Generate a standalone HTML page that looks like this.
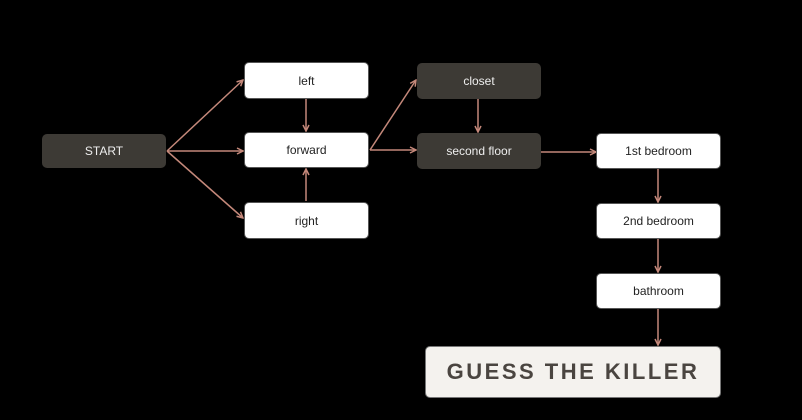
<!DOCTYPE html><html><head><style>
body{margin:0;width:802px;height:420px;background:#000;position:relative;overflow:hidden;font-family:"Liberation Sans",sans-serif}
.n{position:absolute;box-sizing:border-box;border-radius:5px;display:flex;align-items:center;justify-content:center;font-size:12px}
.w{background:#fff;color:#222;border:1px solid #555}
.d{background:#3d3a35;color:#eee}
svg{position:absolute;left:0;top:0}
</style></head><body>
<svg width="802" height="420"><defs><marker id="a" markerWidth="8" markerHeight="8" refX="7" refY="4" orient="auto" markerUnits="userSpaceOnUse"><path d="M1,1 L7,4 L1,7" fill="none" stroke="#c4887a" stroke-width="1.5"/></marker></defs>
<g stroke="#c4887a" stroke-width="1.5" fill="none" marker-end="url(#a)">
<line x1="167" y1="151" x2="243" y2="80"/>
<line x1="167" y1="151" x2="243" y2="151"/>
<line x1="167" y1="151" x2="243" y2="218"/>
<line x1="306" y1="99" x2="306" y2="131"/>
<line x1="306" y1="201" x2="306" y2="169"/>
<line x1="370" y1="150" x2="416" y2="80"/>
<line x1="370" y1="150" x2="416" y2="150"/>
<line x1="478" y1="99" x2="478" y2="132"/>
<line x1="541" y1="152" x2="596" y2="152"/>
<line x1="658" y1="169" x2="658" y2="202"/>
<line x1="658" y1="239" x2="658" y2="272"/>
<line x1="658" y1="309" x2="658" y2="345"/>
</g></svg>
<div class="n d" style="left:42px;top:134px;width:124px;height:34px">START</div>
<div class="n w" style="left:244px;top:62px;width:125px;height:37px">left</div>
<div class="n w" style="left:244px;top:132px;width:125px;height:36px">forward</div>
<div class="n w" style="left:244px;top:202px;width:125px;height:37px">right</div>
<div class="n d" style="left:417px;top:63px;width:124px;height:36px">closet</div>
<div class="n d" style="left:417px;top:133px;width:124px;height:36px">second floor</div>
<div class="n w" style="left:596px;top:133px;width:125px;height:36px">1st bedroom</div>
<div class="n w" style="left:596px;top:203px;width:125px;height:36px">2nd bedroom</div>
<div class="n w" style="left:596px;top:273px;width:125px;height:36px">bathroom</div>
<div class="n" style="left:425px;top:346px;width:296px;height:52px;background:#f4f2ee;border:1px solid #777;color:#4a4540;font-size:22px;font-weight:bold;letter-spacing:2.5px">GUESS THE KILLER</div>
</body></html>
